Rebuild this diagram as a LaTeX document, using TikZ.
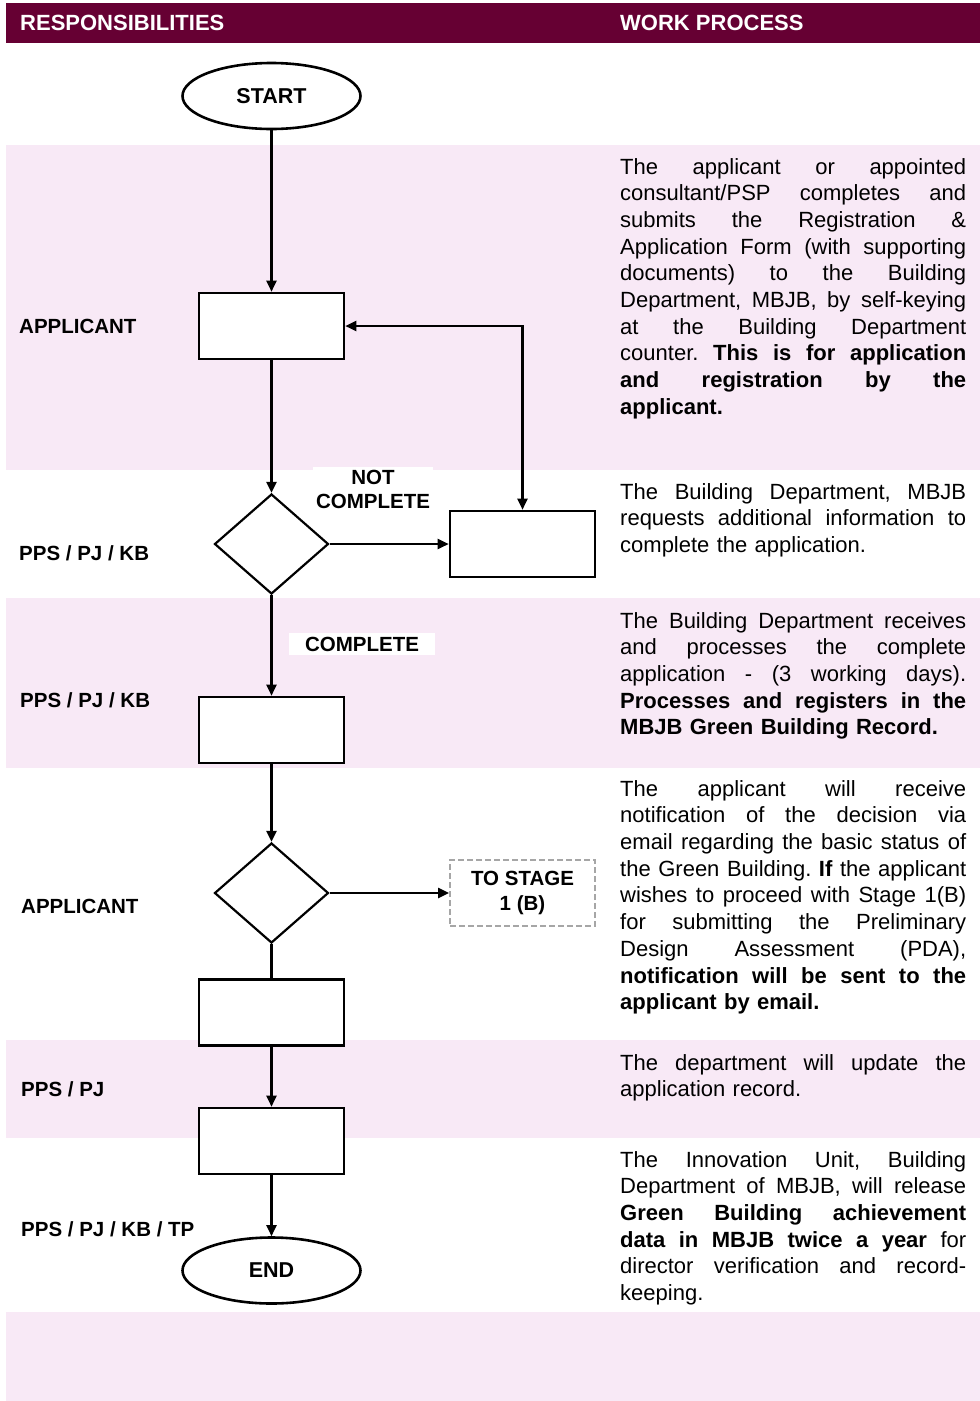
\documentclass[tikz,border=0pt]{standalone}
\usepackage{fontspec}
\setmainfont{Liberation Sans}
\usetikzlibrary{shapes.geometric,arrows.meta}
\definecolor{hdr}{RGB}{102,0,51}
\definecolor{band}{RGB}{248,233,246}
\definecolor{dashgray}{RGB}{166,166,166}
% one justified line of a description, and the last (ragged) line
\newcommand\jline[1]{\makebox[346pt][s]{\spaceskip=0pt\xspaceskip=0pt\strut #1}}
\newcommand\lline[1]{\strut #1}
\begin{document}
\begin{tikzpicture}[x=1pt,y=-1pt,
  proc/.style={draw, line width=2.6pt, fill=white, minimum width=145pt, minimum height=66pt, inner sep=0},
  dec/.style={diamond, draw, line width=2.2pt, fill=white, minimum width=114pt, minimum height=100pt, inner sep=0},
  term/.style={ellipse, draw, line width=2.6pt, fill=white, minimum width=178pt, minimum height=66pt, inner sep=0, font=\fontsize{21.5}{24}\selectfont\bfseries},
  tip/.tip={Triangle[length=11pt,width=10pt]},
  flow/.style={line width=2.2pt, -tip},
  plain/.style={line width=2.2pt},
  lbl/.style={anchor=west, inner sep=0, font=\fontsize{20.5}{24}\selectfont\bfseries},
  tag/.style={fill=white, inner sep=0, align=center, font=\fontsize{20.5}{24}\selectfont\bfseries},
  head/.style={anchor=west, inner sep=0, text=white, font=\fontsize{22}{26}\selectfont\bfseries},
  desc/.style={anchor=north west, inner sep=0, text width=346pt, align=left, font=\fontsize{22}{26.7}\selectfont\frenchspacing}
]
\useasboundingbox (0,0) rectangle (980,1401);

% header and alternating bands
\fill[hdr] (6,3) rectangle (980,43);
\fill[band] (6,145) rectangle (980,470);
\fill[band] (6,598) rectangle (980,768);
\fill[band] (6,1040) rectangle (980,1138);
\fill[band] (6,1312) rectangle (980,1401);

\node[head] (hresp) at (20,23) {RESPONSIBILITIES};
\node[head] (hwork) at (620,23) {WORK PROCESS};

% flow chart
\node[term] (start) at (271.5,96) {START};
\node[proc] (b1) at (271.5,326) {};
\node[dec]  (d1) at (271.5,544) {};
\node[proc] (b2) at (522.5,544) {};
\node[proc] (b3) at (271.5,730) {};
\node[dec]  (d2) at (271.5,893) {};
\node[draw=dashgray, dashed, dash pattern=on 6pt off 3pt, line width=1.8pt, minimum width=145pt, minimum height=66pt, inner sep=0, align=center, font=\fontsize{20.5}{25}\selectfont\bfseries] (stage) at (522.5,893) {TO STAGE\\1 (B)};
\node[proc] (b4) at (271.5,1012.5) {};
\node[proc] (b5) at (271.5,1141) {};
\node[term] (end) at (271.5,1270.5) {END};

\draw[flow] (start) -- (b1);
\draw[flow] (b1) -- (d1);
\draw[flow] (d1) -- (b2);
\draw[line width=2.2pt, tip-tip] (b1.east) -| (b2.north);
\draw[flow] (d1) -- (b3);
\draw[flow] (b3) -- (d2);
\draw[flow] (d2) -- (stage);
\draw[plain] (d2) -- (b4);
\draw[flow] (b4) -- (b5);
\draw[flow] (b5) -- (end);

\node[tag, inner sep=3pt] (notc) at (373,489) {NOT\\COMPLETE};
\node[tag, minimum width=146pt, minimum height=22pt] (comp) at (362,644) {COMPLETE};

% responsibilities
\node[lbl] (r1) at (19,326) {APPLICANT};
\node[lbl] (r2) at (19,553) {PPS / PJ / KB};
\node[lbl] (r3) at (20,700) {PPS / PJ / KB};
\node[lbl] (r4) at (21,906) {APPLICANT};
\node[lbl] (r5) at (21,1089) {PPS / PJ};
\node[lbl] (r6) at (21,1229) {PPS / PJ / KB / TP};

% work process descriptions
\node[desc] (p1) at (620,155.2) {\noindent
\jline{The applicant or appointed}\\
\jline{consultant/PSP completes and}\\
\jline{submits the Registration \&}\\
\jline{Application Form (with supporting}\\
\jline{documents) to the Building}\\
\jline{Department, MBJB, by self-keying}\\
\jline{at the Building Department}\\
\jline{counter. \textbf{This is for application}}\\
\jline{\textbf{and registration by the}}\\
\lline{\textbf{applicant.}}};

\node[desc] (p2) at (620,480.2) {\noindent
\jline{The Building Department, MBJB}\\
\jline{requests additional information to}\\
\lline{complete the application.}};

\node[desc] (p3) at (620,609.2) {\noindent
\jline{The Building Department receives}\\
\jline{and processes the complete}\\
\jline{application - (3 working days).}\\
\jline{\textbf{Processes and registers in the}}\\
\lline{\textbf{MBJB Green Building Record.}}};

\node[desc] (p4) at (620,777.2) {\noindent
\jline{The applicant will receive}\\
\jline{notification of the decision via}\\
\jline{email regarding the basic status of}\\
\jline{the Green Building. \textbf{If} the applicant}\\
\jline{wishes to proceed with Stage 1(B)}\\
\jline{for submitting the Preliminary}\\
\jline{Design Assessment (PDA),}\\
\jline{\textbf{notification will be sent to the}}\\
\lline{\textbf{applicant by email.}}};

\node[desc] (p5) at (620,1051.2) {\noindent
\jline{The department will update the}\\
\lline{application record.}};

\node[desc] (p6) at (620,1148.2) {\noindent
\jline{The Innovation Unit, Building}\\
\jline{Department of MBJB, will release}\\
\jline{\textbf{Green Building achievement}}\\
\jline{\textbf{data in MBJB twice a year} for}\\
\jline{director verification and record-}\\
\lline{keeping.}};
\end{tikzpicture}
\end{document}
